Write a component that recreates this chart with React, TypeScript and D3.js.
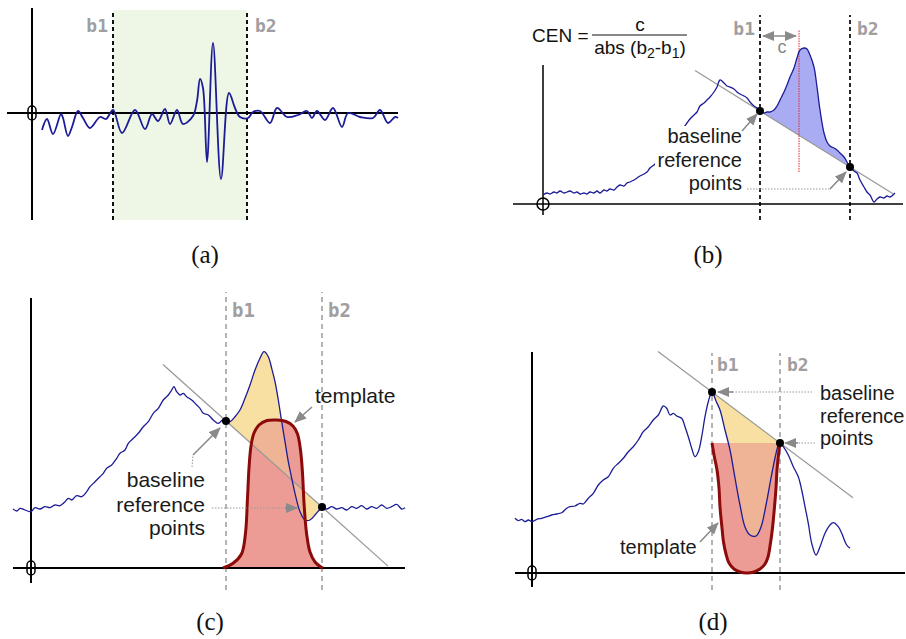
import React from "react";
import * as d3 from "d3";

type Pt = [number, number];

// ---------- shared text ----------
const PANEL_LABELS = ["(a)", "(b)", "(c)", "(d)"];
const BOUND_LABELS = ["b1", "b2"];
const REF_LABEL_LINES = ["baseline", "reference", "points"];
const TEMPLATE_LABEL = "template";

// ---------- panel (a): zero-mean signal, bounds b1/b2 ----------
const A_SIGNAL: Pt[] = [
  [10, -17], [15, -6], [21, -21], [29, -1], [31, -5], [36, -23], [40, -14], [46, 2], [51, -5],
  [58, -15], [68, -4], [74, -6], [81, 3], [90, -20], [103, 3], [113, -16], [120, -1], [126, -8],
  [133, 4], [138, -11], [145, 3], [151, -11], [161, -3], [165, 12], [168, 34], [171, 25],
  [175, -49], [181, 70], [189, -66], [197, 20], [203, 5], [208, -4], [216, -5], [221, 1],
  [228, 2], [238, -10], [245, 5], [255, -4], [266, -2], [275, 2], [280, -5], [285, 2],
  [293, -7], [301, 5], [310, -14], [316, 0], [328, -4], [341, -5], [348, 3], [356, -10],
  [363, -4], [366, -5],
];
const A_BOUNDS: [number, number] = [81, 215];

// ---------- panel (b): peak with centroid ----------
const B_SIGNAL: Pt[] = [
  [0, 9], [4, 11], [7, 10], [11, 12], [14, 11], [17, 13], [21, 11], [24, 12], [27, 13], [31, 11],
  [34, 12], [37, 10], [41, 11], [44, 10], [47, 12], [51, 11], [54, 13], [57, 11], [61, 14],
  [64, 13], [67, 15], [71, 14], [74, 17], [77, 19], [81, 18], [84, 21], [87, 22], [91, 24],
  [94, 26], [97, 28], [101, 30], [104, 32], [107, 36], [111, 39], [114, 42], [117, 47],
  [121, 51], [124, 54], [127, 57], [131, 62], [134, 67], [137, 72], [141, 77], [144, 81],
  [147, 85], [151, 89], [154, 92], [157, 98], [161, 101], [164, 104], [167, 107], [171, 112],
  [174, 117], [177, 124], [181, 121], [184, 118], [187, 117], [191, 115], [194, 112], [197, 110],
  [201, 108], [204, 106], [207, 102], [211, 98], [214, 96], [217, 93], [221, 91], [224, 92],
  [227, 92], [231, 94], [234, 98], [237, 104], [241, 112], [244, 119], [247, 127], [251, 136],
  [254, 146], [257, 154], [261, 156], [264, 155], [267, 149], [271, 137], [274, 117], [277, 94],
  [281, 71], [284, 62], [287, 58], [291, 56], [294, 54], [297, 51], [301, 47], [304, 42],
  [307, 37], [311, 33], [314, 31], [317, 24], [321, 17], [324, 12], [327, 9], [331, 2],
  [334, 5], [337, 7], [341, 6], [344, 8], [347, 7], [352, 11],
];
const B_BOUNDS: [number, number] = [217, 307];
const B_REF: Pt[] = [[217, 93], [307, 37]];
const B_CENTROID = 256;

// ---------- panel (c): template over peak ----------
const C_SIGNAL: Pt[] = [
  [-18, 59], [-14, 57], [-11, 59.7], [-6, 58], [0, 56.3], [4, 60.3], [9, 59], [14, 61.3],
  [19, 60.3], [24, 63], [29, 62.3], [34, 66.3], [37.3, 69.7], [40.7, 68], [45.7, 72.3],
  [50.7, 71.3], [55.7, 76.3], [59, 81.3], [64, 86.3], [69, 91.3], [72.3, 94.7], [75.7, 99.7],
  [80.7, 103], [85.7, 109.7], [89, 114.7], [94, 118], [97.3, 124.7], [102.3, 129.7],
  [107.3, 134.7], [112.3, 141.3], [117.3, 146.3], [122.3, 154.7], [127.3, 159.7], [132.3, 168],
  [137.3, 173], [140.7, 178], [143, 181.3], [145.7, 176.3], [149, 173], [152.3, 174.7],
  [155.7, 171.3], [160.7, 168], [165.7, 163], [169, 159.7], [172.3, 154.7], [177.3, 153],
  [182.3, 148], [187.3, 144.7], [191.7, 148], [195, 147], [199, 146.3], [204, 151.3],
  [209, 158], [214, 169.7], [219, 183], [224, 198], [229, 209.7], [233, 216.3], [237.3, 211.3],
  [240.7, 199.7], [244, 186.3], [247.3, 168], [250.7, 146.3], [254, 126.3], [257.3, 106.3],
  [260.7, 89.7], [264, 74.7], [269, 56.3], [274, 48], [279, 48], [284, 53], [288.3, 58],
  [291, 61], [295.7, 59], [300.7, 61.3], [305.7, 59], [310.7, 60.3], [315.7, 58], [320.7, 61.3],
  [325.7, 59.7], [330.7, 62.3], [335.7, 59], [340.7, 61.3], [345.7, 59.7], [350.7, 63],
  [355.7, 59.7], [360.7, 61.3], [365.7, 63.7], [370.7, 59], [374, 60.3],
];
const C_TEMPLATE: Pt[] = [
  [192, 0], [202, 4.7], [210.5, 14], [214.5, 35], [216.5, 70], [218, 100], [220, 122],
  [223, 135], [228, 143], [236, 147.5], [246, 148], [255, 146.5], [262, 142], [266.5, 134],
  [269.5, 118], [271.5, 95], [273, 65], [275.5, 35], [279, 16], [284, 6], [290, 1], [292, 0],
];
const C_BOUNDS: [number, number] = [195, 291];
const C_REF: Pt[] = [[195, 147], [291, 61]];

// ---------- panel (d): inverted template ----------
const D_SIGNAL: Pt[] = [
  [-17, 54.7], [-13.7, 52.3], [-10.3, 53.7], [-7, 51.3], [-3.7, 53], [0, 51.3], [4.7, 53.7],
  [9.7, 54.7], [14.7, 56.3], [19.7, 58], [24.7, 59], [29.7, 60.3], [34.7, 64.7], [38, 66.3],
  [43, 67], [48, 69.7], [51.3, 69], [56.3, 74.7], [61.3, 79.7], [66.3, 88], [71.3, 93],
  [76.3, 96.3], [81.3, 104.7], [86.3, 109.7], [91.3, 114.7], [96.3, 121.3], [101.3, 126.3],
  [106.3, 133], [111.3, 141.3], [116.3, 146.3], [121.3, 153], [126.3, 158], [131.3, 167],
  [134.7, 164.7], [138, 158], [141.3, 159.7], [144.7, 157], [149.7, 154.7], [153, 146.3],
  [156.3, 136.3], [159.7, 124.7], [163, 116.3], [166.3, 121.3], [169.7, 136.3], [173, 156.3],
  [176.3, 171.3], [180, 181], [184, 172], [188, 163], [193, 143], [198, 123], [203, 95],
  [208, 68], [213, 46], [218, 38], [224, 37], [229, 46], [234, 68], [239, 95], [243, 115],
  [246, 127], [248, 130], [251.3, 126.3], [256.3, 118], [261.3, 106.3], [266.3, 96.3],
  [269.7, 83], [273, 66.3], [276.3, 49.7], [279.7, 29.7], [284, 18], [288, 26.3], [293, 39.7],
  [298, 48], [301.3, 50.3], [306.3, 46.3], [309.7, 39.7], [314.7, 28], [318, 24.7],
];
const D_TEMPLATE: Pt[] = [
  [180, 130], [182, 118], [185, 103], [187, 85], [188, 66], [190, 45], [191.5, 31], [194, 19],
  [197, 10], [202, 4], [208, 1], [215, 0], [222, 1], [228, 4], [233, 9], [236, 16], [238.5, 30],
  [240.5, 45], [242.5, 66], [244, 85], [245, 103], [246.5, 118], [248, 130],
];
const D_BOUNDS: [number, number] = [180, 248];
const D_REF: Pt[] = [[180, 181], [248, 130]];

// ---------- styling ----------
const FONT_SANS = "'Liberation Sans', Arial, sans-serif";
const FONT_MONO = "'DejaVu Sans Mono', monospace";
const FONT_SERIF = "'Liberation Serif', 'Times New Roman', serif";
const BLUE = "#1c1c96";
const GRAY_LINE = "#9a9a9a";
const ARROW = "#8a8a8a";
const BLABEL = "#a09ea0";
const YELLOW = "#f8dfa2";
const ORANGE = "#efb496";
const SALMON = "#ec9c95";
const DARKRED = "#8b0a0a";

const smooth = d3.curveCatmullRom.alpha(0.5);

function makeScales(ox: number, oy: number) {
  return {
    x: d3.scaleLinear().domain([0, 100]).range([ox, ox + 100]),
    y: d3.scaleLinear().domain([0, 100]).range([oy, oy - 100]),
  };
}

function refAt(ref: Pt[], xv: number) {
  const [[x1, y1], [x2, y2]] = ref;
  return y1 + ((xv - x1) * (y2 - y1)) / (x2 - x1);
}

type S = ReturnType<typeof makeScales>;

function linePath(s: S, pts: Pt[], c: any = smooth) {
  return d3.line<Pt>().x((d) => s.x(d[0])).y((d) => s.y(d[1])).curve(c)(pts) || "";
}

function betweenArea(s: S, sig: Pt[], ref: Pt[], b: [number, number]) {
  const seg = sig.filter((d) => d[0] >= b[0] && d[0] <= b[1]);
  return (
    d3
      .area<Pt>()
      .x((d) => s.x(d[0]))
      .y0((d) => s.y(refAt(ref, d[0])))
      .y1((d) => s.y(d[1]))
      .curve(smooth)(seg) || ""
  );
}

function Axes({ s, xr, yr, glyph, w }: { s: S; xr: [number, number]; yr: [number, number]; glyph: "pill" | "circle"; w: number }) {
  return (
    <g>
      <line x1={s.x(xr[0])} x2={s.x(xr[1])} y1={s.y(0)} y2={s.y(0)} stroke="#000" strokeWidth={w} />
      <line x1={s.x(0)} x2={s.x(0)} y1={s.y(yr[0])} y2={s.y(yr[1])} stroke="#000" strokeWidth={w} />
      {glyph === "pill" ? (
        <rect x={s.x(0) - 4} y={s.y(0) - 7} width={8} height={14} rx={4} fill="none" stroke="#000" strokeWidth={1.5} />
      ) : (
        <circle cx={s.x(0)} cy={s.y(0)} r={6} fill="none" stroke="#000" strokeWidth={1.5} />
      )}
    </g>
  );
}

function Bounds({
  s, bounds, yr, color, width, dash, labelY, offsets, fontSize,
}: {
  s: S; bounds: [number, number]; yr: [number, number]; color: string; width: number; dash: string;
  labelY: number; offsets: { dx: number; anchor: string }[]; fontSize: number;
}) {
  return (
    <g>
      {bounds.map((b, i) => (
        <g key={i}>
          <line x1={s.x(b)} x2={s.x(b)} y1={s.y(yr[0])} y2={s.y(yr[1])} stroke={color} strokeWidth={width} strokeDasharray={dash} />
          <text
            x={s.x(b) + offsets[i].dx}
            y={s.y(labelY)}
            textAnchor={offsets[i].anchor as any}
            fontFamily={FONT_MONO}
            fontWeight="bold"
            fontSize={fontSize}
            fill={BLABEL}
          >
            {BOUND_LABELS[i]}
          </text>
        </g>
      ))}
    </g>
  );
}

function Arrow({ s, pts, dotted = false, head = true }: { s: S; pts: Pt[]; dotted?: boolean; head?: boolean }) {
  return (
    <path
      d={linePath(s, pts, d3.curveLinear)}
      fill="none"
      stroke={dotted ? "#999" : ARROW}
      strokeWidth={dotted ? 1 : 1.6}
      strokeDasharray={dotted ? "1.5,1.5" : undefined}
      markerEnd={head ? "url(#ah)" : undefined}
    />
  );
}

function RefText({ s, x, ys, anchor, size }: { s: S; x: number; ys: number[]; anchor: string; size: number }) {
  return (
    <g fontFamily={FONT_SANS} fontSize={size} fill="#1a1a1a" textAnchor={anchor as any}>
      {REF_LABEL_LINES.map((t, i) => (
        <text key={i} x={s.x(x)} y={s.y(ys[i])}>
          {t}
        </text>
      ))}
    </g>
  );
}

export default function App() {
  const sa = makeScales(32, 113);
  const sb = makeScales(543, 204);
  const sc = makeScales(31, 568);
  const sd = makeScales(532, 573);

  const cTplClosed = linePath(sc, C_TEMPLATE) + "Z";
  const dTplClosed = linePath(sd, D_TEMPLATE) + "Z";
  const cYellow = betweenArea(sc, C_SIGNAL, C_REF, C_BOUNDS);
  const dYellow = betweenArea(sd, D_SIGNAL, D_REF, D_BOUNDS);

  return (
    <svg
      width={906}
      height={639}
      style={{ position: "absolute", left: 0, top: 0, background: "#fff" }}
      xmlns="http://www.w3.org/2000/svg"
    >
      <defs>
        <marker id="ah" viewBox="0 0 12 10" refX="11" refY="5" markerWidth="12" markerHeight="10" markerUnits="userSpaceOnUse" orient="auto-start-reverse">
          <path d="M0,0L12,5L0,10z" fill={ARROW} />
        </marker>
        <clipPath id="clipC">
          <path d={cTplClosed} />
        </clipPath>
        <clipPath id="clipD">
          <path d={dTplClosed} />
        </clipPath>
      </defs>
      <rect x={0} y={0} width={906} height={639} fill="#fff" />

      {/* ---------------- (a) ---------------- */}
      <g>
        <rect
          x={sa.x(A_BOUNDS[0])}
          y={sa.y(103)}
          width={sa.x(A_BOUNDS[1]) - sa.x(A_BOUNDS[0])}
          height={sa.y(-107) - sa.y(103)}
          fill="#eef6e6"
        />
        <Bounds s={sa} bounds={A_BOUNDS} yr={[-107, 103]} color="#111" width={2} dash="4,3" labelY={81}
          offsets={[{ dx: -5, anchor: "end" }, { dx: 8, anchor: "start" }]} fontSize={18} />
        <Axes s={sa} xr={[-25, 366]} yr={[-107, 105]} glyph="pill" w={2} />
        <path d={linePath(sa, A_SIGNAL)} fill="none" stroke={BLUE} strokeWidth={1.8} />
      </g>

      {/* ---------------- (b) ---------------- */}
      <g>
        <path d={betweenArea(sb, B_SIGNAL, B_REF, B_BOUNDS)} fill="#a9acf2" />
        <Bounds s={sb} bounds={B_BOUNDS} yr={[-16, 189]} color="#111" width={1.8} dash="4,3" labelY={169}
          offsets={[{ dx: -5, anchor: "end" }, { dx: 7, anchor: "start" }]} fontSize={18} />
        <Axes s={sb} xr={[-30, 360]} yr={[-11, 139]} glyph="circle" w={1.5} />
        <line x1={sb.x(152)} y1={sb.y(refAt(B_REF, 152))} x2={sb.x(350)} y2={sb.y(refAt(B_REF, 350))} stroke={GRAY_LINE} strokeWidth={1.3} />
        <line x1={sb.x(B_CENTROID)} x2={sb.x(B_CENTROID)} y1={sb.y(32)} y2={sb.y(174)} stroke="#e02a2a" strokeWidth={1} strokeDasharray="1.5,1" />
        <path d={linePath(sb, B_SIGNAL)} fill="none" stroke={BLUE} strokeWidth={1.3} />
        {B_REF.map((p, i) => (
          <circle key={i} cx={sb.x(p[0])} cy={sb.y(p[1])} r={4} fill="#000" />
        ))}
        <line x1={sb.x(B_BOUNDS[0] + 3)} x2={sb.x(B_CENTROID - 3)} y1={sb.y(168)} y2={sb.y(168)} stroke={ARROW} strokeWidth={1.6}
          markerStart="url(#ah)" markerEnd="url(#ah)" />
        <text x={sb.x(239)} y={sb.y(151)} textAnchor="middle" fontFamily={FONT_SANS} fontSize={18} fill="#888">c</text>
        {/* formula */}
        <g fontFamily={FONT_SANS} fill="#111">
          <text x={sb.x(-11)} y={sb.y(162)} fontSize={19}>CEN =</text>
          <line x1={sb.x(49)} x2={sb.x(144)} y1={sb.y(169)} y2={sb.y(169)} stroke="#111" strokeWidth={1} />
          <text x={sb.x(97)} y={sb.y(173)} fontSize={19} textAnchor="middle">c</text>
          <text x={sb.x(97)} y={sb.y(150)} fontSize={19} textAnchor="middle">
            abs (b<tspan fontSize={14} dy={4}>2</tspan>
            <tspan dy={-4}>-b</tspan>
            <tspan fontSize={14} dy={4}>1</tspan>
            <tspan dy={-4}>)</tspan>
          </text>
        </g>
        <rect x={sb.x(112)} y={sb.y(78)} width={92} height={70} fill="#fff" />
        <RefText s={sb} x={199} ys={[61, 37, 14]} anchor="end" size={20} />
        <Arrow s={sb} pts={[[199, 73], [214, 90]]} />
        <Arrow s={sb} pts={[[204, 15], [287, 15]]} dotted head={false} />
        <Arrow s={sb} pts={[[287, 15], [303, 32]]} />
      </g>

      {/* ---------------- (c) ---------------- */}
      <g>
        <path d={cYellow} fill={YELLOW} />
        <path d={cTplClosed} fill={SALMON} />
        <path d={cYellow} fill={ORANGE} clipPath="url(#clipC)" />
        <Bounds s={sc} bounds={C_BOUNDS} yr={[-22, 276]} color="#9a9a9a" width={1.5} dash="5,4" labelY={251}
          offsets={[{ dx: 6, anchor: "start" }, { dx: 6, anchor: "start" }]} fontSize={19} />
        <Axes s={sc} xr={[-18, 374]} yr={[-15, 270]} glyph="pill" w={2} />
        <line x1={sc.x(132)} y1={sc.y(refAt(C_REF, 132))} x2={sc.x(357)} y2={sc.y(refAt(C_REF, 357))} stroke={GRAY_LINE} strokeWidth={1.3} />
        <path d={linePath(sc, C_SIGNAL)} fill="none" stroke={BLUE} strokeWidth={1.3} />
        <path d={linePath(sc, C_TEMPLATE)} fill="none" stroke={DARKRED} strokeWidth={3} />
        {C_REF.map((p, i) => (
          <circle key={i} cx={sc.x(p[0])} cy={sc.y(p[1])} r={4} fill="#000" />
        ))}
        <text x={sc.x(284)} y={sc.y(165)} fontFamily={FONT_SANS} fontSize={21} fill="#1a1a1a">{TEMPLATE_LABEL}</text>
        <Arrow s={sc} pts={[[281, 161], [264, 146]]} />
        <RefText s={sc} x={174} ys={[81, 56, 33]} anchor="end" size={21} />
        <Arrow s={sc} pts={[[161, 101], [162, 113]]} dotted head={false} />
        <Arrow s={sc} pts={[[162, 113], [189, 140]]} />
        <Arrow s={sc} pts={[[181, 60], [255, 60]]} dotted head={false} />
        <Arrow s={sc} pts={[[254, 60], [266, 60]]} />
      </g>

      {/* ---------------- (d) ---------------- */}
      <g>
        <path d={dYellow} fill={YELLOW} />
        <path d={dTplClosed} fill={SALMON} />
        <path d={dYellow} fill={ORANGE} clipPath="url(#clipD)" />
        <Bounds s={sd} bounds={D_BOUNDS} yr={[-17, 220]} color="#9a9a9a" width={1.5} dash="5,4" labelY={202}
          offsets={[{ dx: 5, anchor: "start" }, { dx: 7, anchor: "start" }]} fontSize={18} />
        <Axes s={sd} xr={[-17, 373]} yr={[-14, 221]} glyph="pill" w={2} />
        <line x1={sd.x(126)} y1={sd.y(refAt(D_REF, 126))} x2={sd.x(321)} y2={sd.y(refAt(D_REF, 321))} stroke={GRAY_LINE} strokeWidth={1.3} />
        <path d={linePath(sd, D_TEMPLATE)} fill="none" stroke={DARKRED} strokeWidth={3} />
        <path d={linePath(sd, D_SIGNAL)} fill="none" stroke={BLUE} strokeWidth={1.3} />
        {D_REF.map((p, i) => (
          <circle key={i} cx={sd.x(p[0])} cy={sd.y(p[1])} r={4} fill="#000" />
        ))}
        <RefText s={sd} x={288} ys={[173, 150, 128]} anchor="start" size={20} />
        <Arrow s={sd} pts={[[280, 181], [200, 181]]} dotted head={false} />
        <Arrow s={sd} pts={[[201, 181], [186, 181]]} />
        <Arrow s={sd} pts={[[283, 130], [265, 130]]} dotted head={false} />
        <Arrow s={sd} pts={[[266, 130], [253, 130]]} />
        <text x={sd.x(88)} y={sd.y(19)} fontFamily={FONT_SANS} fontSize={20} fill="#1a1a1a">{TEMPLATE_LABEL}</text>
        <Arrow s={sd} pts={[[168, 31], [186, 50]]} />
      </g>

      {/* panel captions */}
      <g fontFamily={FONT_SERIF} fontSize={25} fill="#111" textAnchor="middle">
        <text x={205} y={263}>{PANEL_LABELS[0]}</text>
        <text x={708} y={263}>{PANEL_LABELS[1]}</text>
        <text x={210} y={630}>{PANEL_LABELS[2]}</text>
        <text x={713} y={630}>{PANEL_LABELS[3]}</text>
      </g>
    </svg>
  );
}
